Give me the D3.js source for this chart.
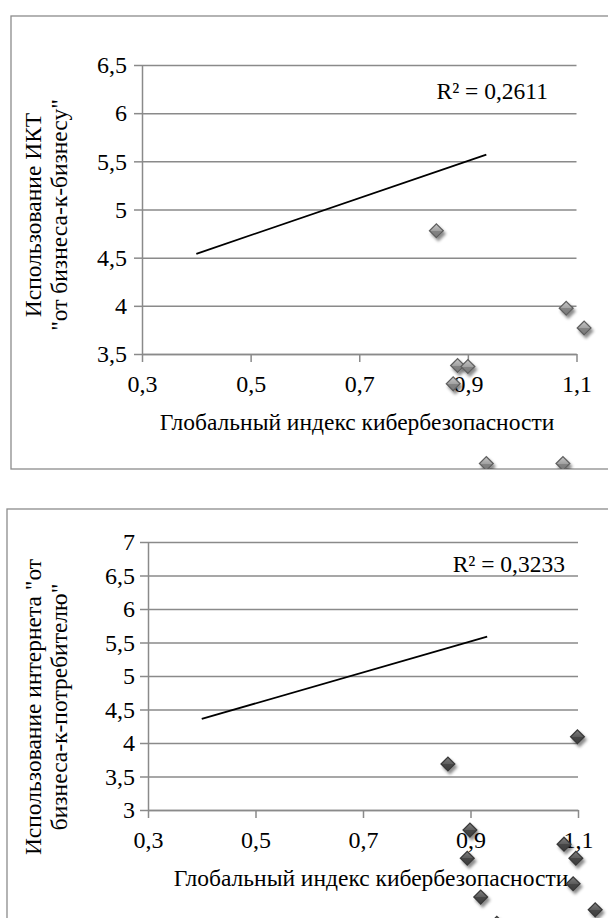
<!DOCTYPE html>
<meta charset="utf-8">
<title>ГИК и использование ИКТ</title>
<style>
body { margin: 0; background: #fff; }
svg, svg text { font-family: "Liberation Serif", "Times New Roman", serif; }
.grid line { stroke: #8a8a8a; stroke-width: 1.5px; }
.axis path, .axis line { stroke: #8a8a8a; stroke-width: 1.5px; }
.axis text { font-family: "Liberation Serif", "Times New Roman", serif; font-size: 24px; fill: #000; }
.frame { fill: none; stroke: #8c8c8c; stroke-width: 1.3px; }
.trend { fill: none; stroke: #000; stroke-width: 1.8px; }
.label { font-size: 23.5px; fill: #000; }
</style>
<body>
<script src="https://cdn.jsdelivr.net/npm/d3@7"></script>
<script>
// shared x axis ticks (Глобальный индекс кибербезопасности)
var xTicks = [0.3, 0.5, 0.7, 0.9, 1.1];

// chart 1: ИКТ "от бизнеса-к-бизнесу"
var yTicksB2B = [3.5, 4, 4.5, 5, 5.5, 6, 6.5];
var gciB2B = [0.842, 1.081, 1.114, 0.881, 0.900, 0.873, 0.934, 1.075];
var ictB2B = [4.78, 3.975, 3.77, 3.38, 3.37, 3.19, 2.363, 2.363];
var trendXB2B = [0.40, 0.934];
var trendYB2B = [4.54, 5.57];
var r2B2B = "R² = 0,2611";

// chart 2: интернет "от бизнеса-к-потребителю"
var yTicksB2C = [3, 3.5, 4, 4.5, 5, 5.5, 6, 6.5, 7];
var gciB2C = [1.099, 0.858, 0.899, 0.894, 1.074, 1.096, 1.091, 0.919, 1.132, 0.949];
var netB2C = [4.094, 3.687, 2.70, 2.28, 2.49, 2.28, 1.90, 1.70, 1.51, 1.31];
var trendXB2C = [0.40, 0.931];
var trendYB2C = [4.36, 5.587];
var r2B2C = "R² = 0,3233";

var xTitle = "Глобальный индекс кибербезопасности";

var W = 608, H = 918;
var locale = d3.formatLocale({decimal: ",", thousands: " ", grouping: [3], currency: ["", ""]});
var fmt = locale.format("~g");

var svg = d3.select("body").append("svg")
    .attr("width", W)
    .attr("height", H);

var defs = svg.append("defs");

var shadow = defs.append("filter")
    .attr("id", "shadow")
    .attr("x", "-50%").attr("y", "-50%")
    .attr("width", "200%").attr("height", "200%");
shadow.append("feDropShadow")
    .attr("dx", 2).attr("dy", 3)
    .attr("stdDeviation", 1.6)
    .attr("flood-color", "#000")
    .attr("flood-opacity", 0.45);

function gradient(id, top, mid1, mid2, bottom) {
  var g = defs.append("linearGradient")
      .attr("id", id)
      .attr("x1", 0).attr("y1", 0).attr("x2", 0).attr("y2", 1);
  g.append("stop").attr("offset", "0%").attr("stop-color", top);
  g.append("stop").attr("offset", "50%").attr("stop-color", mid1);
  g.append("stop").attr("offset", "50%").attr("stop-color", mid2);
  g.append("stop").attr("offset", "100%").attr("stop-color", bottom);
}
gradient("light", "#c2c2c2", "#a2a2a2", "#858585", "#7a7a7a");
gradient("dark", "#7a7a7a", "#5c5c5c", "#474747", "#3e3e3e");

// square turned 45 degrees, the way the office marker looks
var diamondType = {
  draw: function(ctx, size) {
    var r = Math.sqrt(size / 2);
    ctx.moveTo(0, -r);
    ctx.lineTo(r, 0);
    ctx.lineTo(0, r);
    ctx.lineTo(-r, 0);
    ctx.closePath();
  }
};

function serif(s) {
  s.attr("font-family", null).attr("font-size", null);
  s.selectAll("text").style("font-family", "'Liberation Serif', 'Times New Roman', serif");
}

function drawChart(c) {
  var clipId = "clip" + c.id;
  defs.append("clipPath").attr("id", clipId)
    .append("rect")
      .attr("x", c.frame.x).attr("y", c.frame.y)
      .attr("width", c.frame.w).attr("height", c.frame.h);

  svg.append("rect")
      .attr("class", "frame")
      .attr("x", c.frame.x).attr("y", c.frame.y)
      .attr("width", c.frame.w).attr("height", c.frame.h);

  var g = svg.append("g").attr("clip-path", "url(#" + clipId + ")");

  var x = d3.scaleLinear().domain([0.3, 1.1]).range([c.plot.left, c.plot.right]);
  var y = d3.scaleLinear().domain(c.yDomain).range([c.plot.bottom, c.plot.top]);
  var w = c.plot.right - c.plot.left;

  g.append("g")
      .attr("class", "grid")
      .attr("transform", "translate(" + c.plot.left + ",0)")
      .call(d3.axisLeft(y).tickValues(c.yTicks).tickSize(-w).tickFormat(""))
      .call(function(s) { s.select(".domain").remove(); });

  g.append("g")
      .attr("class", "axis")
      .attr("transform", "translate(" + c.plot.left + ",0)")
      .call(d3.axisLeft(y).tickValues(c.yTicks).tickSize(8).tickSizeOuter(0)
        .tickPadding(c.yPad).tickFormat(fmt))
      .call(serif);

  g.append("g")
      .attr("class", "axis")
      .attr("transform", "translate(0," + c.plot.bottom + ")")
      .call(d3.axisBottom(x).tickValues(xTicks).tickSize(8).tickSizeOuter(0)
        .tickPadding(13).tickFormat(fmt))
      .call(serif);

  // axis titles
  g.append("text")
      .attr("class", "label")
      .attr("text-anchor", "middle")
      .attr("x", c.xTitleX)
      .attr("y", c.plot.bottom + 76)
      .text(xTitle);

  c.yTitle.forEach(function(line, i) {
    g.append("text")
        .attr("class", "label")
        .attr("text-anchor", "middle")
        .attr("transform", "translate(" + [41 + i * 26, c.yTitleY] + ")rotate(-90)")
        .text(line);
  });

  g.append("text")
      .attr("class", "label")
      .attr("text-anchor", "end")
      .attr("x", c.r2.x)
      .attr("y", c.r2.y)
      .text(c.r2.text);

  g.append("path")
      .attr("class", "trend")
      .attr("d", d3.line()
        .x(function(d) { return x(d[0]); })
        .y(function(d) { return y(d[1]); })(d3.zip(c.trendX, c.trendY)));

  var pts = g.append("g").selectAll("g")
      .data(d3.zip(c.xs, c.ys))
    .enter().append("g")
      .attr("transform", function(d) { return "translate(" + x(d[0]) + "," + y(d[1]) + ")"; });

  pts.append("path")
      .attr("d", d3.symbol().type(diamondType).size(2 * 7.8 * 7.8))
      .attr("fill", c.edge)
      .attr("filter", "url(#shadow)");
  pts.append("path")
      .attr("d", d3.symbol().type(diamondType).size(2 * 6 * 6))
      .attr("fill", "url(#" + c.fill + ")");
}

drawChart({
  id: 1,
  frame: {x: 11, y: 16, w: 700, h: 453},
  plot: {left: 142, right: 576.5, top: 65, bottom: 354},
  yDomain: [3.5, 6.5],
  yTicks: yTicksB2B,
  yPad: 7,
  xs: gciB2B, ys: ictB2B,
  trendX: trendXB2B, trendY: trendYB2B,
  r2: {text: r2B2B, x: 548, y: 99},
  xTitleX: 357,
  yTitle: ["Использование ИКТ", "\"от бизнеса-к-бизнесу\""],
  yTitleY: 215,
  edge: "#5e5e5e", fill: "light"
});

drawChart({
  id: 2,
  frame: {x: 7, y: 509, w: 700, h: 500},
  plot: {left: 148, right: 578, top: 542, bottom: 810},
  yDomain: [3, 7],
  yTicks: yTicksB2C,
  yPad: 5,
  xs: gciB2C, ys: netB2C,
  trendX: trendXB2C, trendY: trendYB2C,
  r2: {text: r2B2C, x: 565, y: 572},
  xTitleX: 371,
  yTitle: ["Использование интернета \"от", "бизнеса-к-потребителю\""],
  yTitleY: 707,
  edge: "#383838", fill: "dark"
});
</script>
